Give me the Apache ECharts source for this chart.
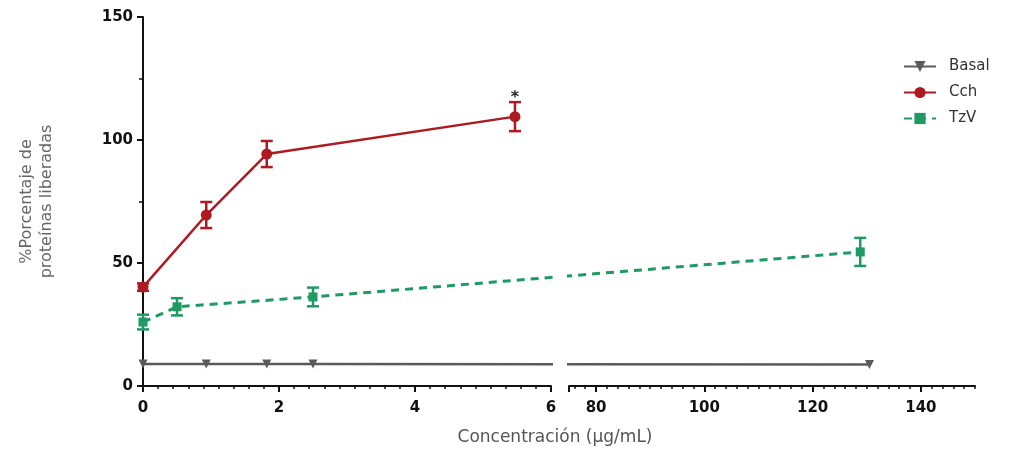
<!DOCTYPE html>
<html>
<head>
<meta charset="utf-8">
<script src="https://cdn.jsdelivr.net/npm/echarts@6/dist/echarts.min.js"></script>
<style>
  html, body { margin: 0; padding: 0; background: #fff; }
  #main { width: 1009px; height: 452px; }
</style>
</head>
<body>
<div id="main"></div>
<script>
// values (x in µg/mL, y in %)
const basalX = [0, 0.93, 1.82, 2.5, 130.5]
const basalY = [8.9, 8.9, 8.9, 8.9, 8.7]

const cchX = [0, 0.93, 1.82, 5.47]
const cchY = [40.2, 69.5, 94.3, 109.5]
const cchErr = [1.5, 5.3, 5.3, 5.9]

const tzvX = [0, 0.5, 2.5, 128.8]
const tzvY = [26, 32.2, 36.2, 54.5]
const tzvErr = [3, 3.5, 3.8, 5.7]

// axis ticks
const yTicks = [0, 50, 100, 150]
const xTicksLow = [0, 2, 4, 6]
const xTicksHigh = [80, 100, 120, 140]
const lowMax = 6
const highMin = 75
const highMax = 150

const RED = '#ad1a20'
const GREEN = '#1f9a62'
const GRAY = '#5a5a5a'
const font = 'DejaVu Sans, Liberation Sans, sans-serif'

const chart = echarts.init(document.getElementById('main'))

// minor ticks on the high segment, every 2
const highMinor = []
for (let v = highMin + 1; v <= highMax; v += 2) highMinor.push(v)

function split (xs, ys) {
  const low = []
  const high = []
  xs.forEach((x, i) => (x <= lowMax ? low : high).push([x, ys[i]]))
  return { low, high }
}

function errBars (xs, ys, es, color, seg) {
  const data = xs.map((x, i) => [x, ys[i], es[i]])
    .filter(d => (seg === 0 ? d[0] <= lowMax : d[0] >= highMin))
  return {
    type: 'custom',
    xAxisIndex: seg,
    yAxisIndex: seg,
    encode: { x: 0, y: 1 },
    data,
    z: 3,
    silent: true,
    renderItem (params, api) {
      const x = api.value(0)
      const y = api.value(1)
      const e = api.value(2)
      const top = api.coord([x, y + e])
      const bot = api.coord([x, y - e])
      const w = 6
      const style = { stroke: color, lineWidth: 2.5 }
      return {
        type: 'group',
        children: [
          { type: 'line', shape: { x1: top[0], y1: top[1], x2: bot[0], y2: bot[1] }, style },
          { type: 'line', shape: { x1: top[0] - w, y1: top[1], x2: top[0] + w, y2: top[1] }, style },
          { type: 'line', shape: { x1: bot[0] - w, y1: bot[1], x2: bot[0] + w, y2: bot[1] }, style }
        ]
      }
    }
  }
}

const axisLineStyle = { color: '#111', width: 2 }
const tickLabel = { color: '#111', fontFamily: font, fontWeight: 'bold', fontSize: 15 }

const option = {
  animation: false,
  backgroundColor: '#fff',
  grid: [
    { left: 143, right: 1009 - 551, top: 17, bottom: 452 - 386 },
    { left: 569, right: 1009 - 975, top: 17, bottom: 452 - 386 }
  ],
  legend: {
    orient: 'vertical',
    left: 898,
    top: 54,
    itemWidth: 32,
    itemHeight: 14,
    itemGap: 11,
    data: ['Basal', 'Cch', 'TzV'],
    textStyle: { color: '#333', fontFamily: font, fontSize: 15, padding: [0, 0, 0, 8] }
  },
  xAxis: [
    {
      type: 'value', gridIndex: 0, min: 0, max: lowMax, interval: 2,
      splitLine: { show: false },
      axisLine: { lineStyle: axisLineStyle },
      axisTick: { length: 6, lineStyle: { width: 2, color: '#111' } },
      minorTick: { show: true, splitNumber: 9, length: 3, lineStyle: { width: 1.5, color: '#111' } },
      axisLabel: Object.assign({ margin: 15, customValues: xTicksLow }, tickLabel)
    },
    {
      type: 'value', gridIndex: 1, min: highMin, max: highMax, position: 'bottom',
      splitLine: { show: false },
      axisLine: { lineStyle: axisLineStyle },
      axisTick: { length: 6, customValues: [highMin].concat(xTicksHigh), lineStyle: { width: 2, color: '#111' } },
      axisLabel: Object.assign({ margin: 15, customValues: xTicksHigh }, tickLabel)
    },
    {
      type: 'value', gridIndex: 1, min: highMin, max: highMax, position: 'bottom',
      splitLine: { show: false },
      axisLine: { show: false },
      axisTick: { length: 3, customValues: highMinor, lineStyle: { width: 1.5, color: '#111' } },
      axisLabel: { show: false }
    }
  ],
  yAxis: [
    {
      type: 'value', gridIndex: 0, min: 0, max: 150, interval: 50,
      splitLine: { show: false },
      axisLine: { show: true, lineStyle: axisLineStyle },
      axisTick: { show: true, length: 6, lineStyle: { width: 2, color: '#111' } },
      minorTick: { show: true, splitNumber: 2, length: 4, lineStyle: { width: 1.5, color: '#111' } },
      axisLabel: Object.assign({ margin: 10, customValues: yTicks }, tickLabel),
      name: '%Porcentaje de\nproteínas liberadas',
      nameLocation: 'middle',
      nameGap: 86,
      nameTextStyle: { color: '#666', fontFamily: font, fontSize: 16, lineHeight: 20 }
    },
    { type: 'value', gridIndex: 1, min: 0, max: 150, show: false }
  ],
  graphic: [
    {
      type: 'text', x: 555, y: 438,
      style: { text: 'Concentración (µg/mL)', fill: '#555', font: '17px ' + font, align: 'center', verticalAlign: 'middle' }
    }
  ],
  series: []
}

chart.setOption(option)

// project an x value across the axis break using the library's own scales
function toLow (x) {
  return chart.convertFromPixel({ xAxisIndex: 0 }, chart.convertToPixel({ xAxisIndex: 1 }, x))
}
function toHigh (x) {
  return chart.convertFromPixel({ xAxisIndex: 1 }, chart.convertToPixel({ xAxisIndex: 0 }, x))
}

function lineSeries (name, xs, ys, style) {
  const { low, high } = split(xs, ys)
  const out = []
  const lowData = low.slice()
  if (high.length) lowData.push({ value: [toLow(high[0][0]), high[0][1]], symbol: 'none' })
  out.push(Object.assign({ name, type: 'line', xAxisIndex: 0, yAxisIndex: 0, data: lowData }, style))
  if (high.length) {
    const highData = []
    if (low.length) {
      const last = low[low.length - 1]
      highData.push({ value: [toHigh(last[0]), last[1]], symbol: 'none' })
    }
    out.push(Object.assign({ name, type: 'line', xAxisIndex: 1, yAxisIndex: 1, data: highData.concat(high) }, style))
  }
  return out
}

const basalStyle = {
  color: GRAY, symbol: 'triangle', symbolRotate: 180, symbolSize: 9,
  lineStyle: { color: GRAY, width: 2.5 }, itemStyle: { color: GRAY }, z: 4
}
const cchStyle = {
  color: RED, symbol: 'circle', symbolSize: 11,
  lineStyle: { color: RED, width: 2.5 }, itemStyle: { color: RED }, z: 5
}
const tzvStyle = {
  color: GREEN, symbol: 'rect', symbolSize: 9,
  lineStyle: { color: GREEN, width: 3, type: [8, 6] }, itemStyle: { color: GREEN }, z: 5
}

const cch = lineSeries('Cch', cchX, cchY, cchStyle)
// significance star over the last Cch point
const cchLow = cch[0].data
const lastIdx = cchX.length - 1
cchLow[lastIdx] = {
  value: cchLow[lastIdx],
  label: { show: true, formatter: '*', position: 'top', distance: 5, color: '#222', fontFamily: font, fontSize: 16, fontWeight: 'bold' }
}

const series = []
  .concat(lineSeries('Basal', basalX, basalY, basalStyle))
  .concat(cch)
  .concat(lineSeries('TzV', tzvX, tzvY, tzvStyle))
  .concat([
    errBars(cchX, cchY, cchErr, RED, 0),
    errBars(tzvX, tzvY, tzvErr, GREEN, 0),
    errBars(tzvX, tzvY, tzvErr, GREEN, 1)
  ])

chart.setOption({ series })
</script>
</body>
</html>
